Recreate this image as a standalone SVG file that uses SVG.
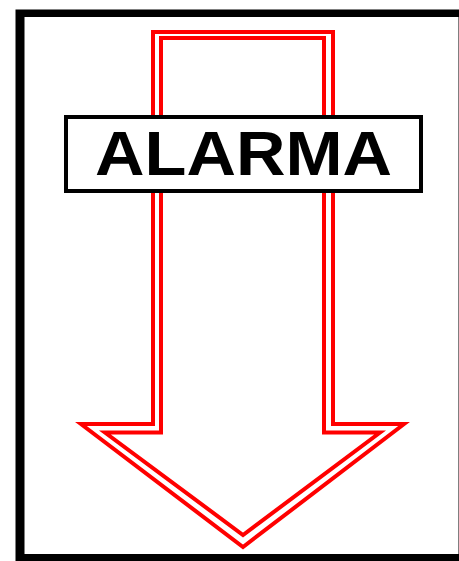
<svg xmlns="http://www.w3.org/2000/svg" width="459" height="561" viewBox="0 0 459 561">
  <style>
    .red { fill: none; stroke: #ff0000; stroke-width: 4; stroke-linejoin: miter; }
    .box { fill: #ffffff; stroke: #000000; stroke-width: 4; }
    .label { font-family: "Liberation Sans", Arial, sans-serif; font-weight: bold; font-size: 63px; fill: #000000; }
  </style>
  <rect x="0" y="0" width="459" height="561" fill="#ffffff"/>
  <g id="frame">
    <path d="M15.5 9.5 H480 V580 H15.5 Z M24.5 17 V554 H458.5 V17 Z" fill="#000000" fill-rule="evenodd"/>
  </g>
  <g id="arrow">
    <polygon class="red" points="153,32 333,32 333,424 404,424 243,547 81,424 153,424"/>
    <polygon class="red" points="161,38 324,38 324,432.5 380,432.5 243,535 105,432.5 161,432.5"/>
  </g>
  <g id="label">
    <rect class="box" x="66" y="117" width="355" height="74"/>
    <text class="label" x="95" y="175" textLength="297" lengthAdjust="spacingAndGlyphs">ALARMA</text>
  </g>
</svg>
